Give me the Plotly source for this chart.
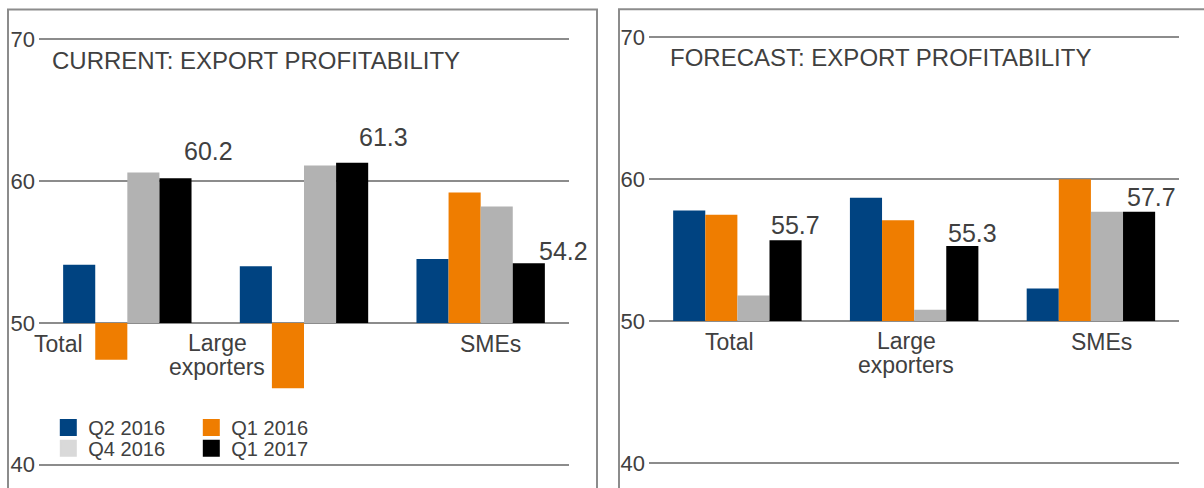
import plotly.graph_objects as go

categories = ["Total", "Large exporters", "SMEs"]
series_names = ["Q2 2016", "Q1 2016", "Q4 2016", "Q1 2017"]
current_q2_2016 = [54.1, 54.0, 54.5]
current_q1_2016 = [47.4, 45.4, 59.2]
current_q4_2016 = [60.6, 61.1, 58.2]
current_q1_2017 = [60.2, 61.3, 54.2]
forecast_q2_2016 = [57.8, 58.7, 52.3]
forecast_q1_2016 = [57.5, 57.1, 60.0]
forecast_q4_2016 = [51.8, 50.8, 57.7]
forecast_q1_2017 = [55.7, 55.3, 57.7]
y_ticks = [40, 50, 60, 70]
baseline = 50
left_title = "CURRENT: EXPORT PROFITABILITY"
right_title = "FORECAST: EXPORT PROFITABILITY"

bar_colors = ["#004381", "#EF7D00", "#B2B2B2", "#000000"]
legend_colors = ["#004381", "#EF7D00", "#D9D9D9", "#000000"]
TXT = "#404040"
GRID = "#8c8c8c"
FONT = "Liberation Sans, Arial, sans-serif"
W, H = 1204, 488

current = [current_q2_2016, current_q1_2016, current_q4_2016, current_q1_2017]
forecast = [forecast_q2_2016, forecast_q1_2016, forecast_q4_2016, forecast_q1_2017]

fig = go.Figure()
for name, col, vals in zip(series_names, bar_colors, current):
    fig.add_trace(go.Bar(x=categories, y=[v - baseline for v in vals], base=baseline,
                         marker=dict(color=col, line=dict(width=0)), name=name,
                         showlegend=False, xaxis="x", yaxis="y"))
for name, col, vals in zip(series_names, bar_colors, forecast):
    fig.add_trace(go.Bar(x=categories, y=[v - baseline for v in vals], base=baseline,
                         marker=dict(color=col, line=dict(width=0)), name=name,
                         showlegend=False, xaxis="x2", yaxis="y2"))
# legend entries
for i, (name, col) in enumerate(zip(series_names, legend_colors)):
    fig.add_trace(go.Scatter(x=[categories[0]], y=[None], mode="markers", name=name,
                             marker=dict(symbol="square", size=15, color=col,
                                         line=dict(color=col, width=2)),
                             legend="legend" if i < 2 else "legend2",
                             xaxis="x", yaxis="y", hoverinfo="skip"))

ann = []
# titles
ann.append(dict(text=left_title, xref="paper", yref="paper", x=50 / W, y=(H - 60) / H,
                xanchor="left", yanchor="middle", showarrow=False,
                font=dict(size=24, color=TXT, family=FONT)))
ann.append(dict(text=right_title, xref="paper", yref="paper", x=668 / W, y=(H - 58) / H,
                xanchor="left", yanchor="middle", showarrow=False,
                font=dict(size=24, color=TXT, family=FONT)))

# category labels (xshift per panel, as placed in the original)
cat_shift_left = [-69, -87, 10]
cat_shift_right = [-8, -8, 11]
for ax, shifts in (("x", cat_shift_left), ("x2", cat_shift_right)):
    yref = "y" if ax == "x" else "y2"
    for cat, sh in zip(categories, shifts):
        parts = cat.split(" ")
        if len(parts) == 1:
            lines = [(parts[0], -21)]
        else:
            lines = [(parts[0], -20), (parts[1], -44)]
        for txt, ys in lines:
            ann.append(dict(text=txt, xref=ax, yref=yref, x=cat, y=baseline,
                            xshift=sh, yshift=ys, xanchor="center", yanchor="middle",
                            showarrow=False, font=dict(size=23, color=TXT, family=FONT)))

# data labels for Q1 2017
lab_left = [(81, 27), (79, 25.5), (82.5, 12)]
lab_right = [(57.7, 15), (58, 13.3), (60.5, 15)]
for ax, vals, offs in (("x", current_q1_2017, lab_left), ("x2", forecast_q1_2017, lab_right)):
    yref = "y" if ax == "x" else "y2"
    for cat, v, (dx, dy) in zip(categories, vals, offs):
        ann.append(dict(text=f"{v:.1f}", xref=ax, yref=yref, x=cat, y=v,
                        xshift=dx, yshift=dy, xanchor="center", yanchor="middle",
                        showarrow=False, font=dict(size=25, color=TXT, family=FONT)))

shapes = [
    dict(type="rect", xref="paper", yref="paper", x0=8 / W, x1=597 / W,
         y0=-0.05, y1=(H - 9.5) / H, line=dict(color=GRID, width=2), fillcolor="rgba(0,0,0,0)"),
    dict(type="rect", xref="paper", yref="paper", x0=619 / W, x1=1.05,
         y0=-0.05, y1=(H - 9.3) / H, line=dict(color=GRID, width=2), fillcolor="rgba(0,0,0,0)"),
]

yax = dict(range=[39, 71], tickvals=y_ticks, showgrid=True, gridcolor=GRID, gridwidth=1.5,
           zeroline=False, showline=False, ticks="", fixedrange=True, ticklabelstandoff=3,
           tickfont=dict(size=22, color=TXT, family=FONT))
xax = dict(type="category", showticklabels=False, showgrid=False, zeroline=False,
           showline=False, ticks="", fixedrange=True, range=[-0.5, 2.5])

fig.update_layout(
    width=W, height=H, margin=dict(l=0, r=0, t=0, b=0),
    paper_bgcolor="white", plot_bgcolor="white",
    font=dict(family=FONT, color=TXT),
    barmode="group", bargap=0.2733, bargroupgap=0,
    xaxis=dict(xax, domain=[39 / W, 569 / W], anchor="y"),
    yaxis=dict(yax, domain=[(H - 478.9) / H, (H - 25.1) / H], anchor="x"),
    xaxis2=dict(xax, domain=[649 / W, 1179.3 / W], anchor="y2"),
    yaxis2=dict(yax, domain=[(H - 477.2) / H, (H - 23.1) / H], anchor="x2"),
    annotations=ann, shapes=shapes,
    legend=dict(orientation="h", x=48.3 / W, y=(H - 427.5) / H, xanchor="left", yanchor="middle",
                entrywidth=98, entrywidthmode="pixels", font=dict(size=20, color=TXT, family=FONT),
                bgcolor="rgba(0,0,0,0)", borderwidth=0),
    legend2=dict(orientation="h", x=48.3 / W, y=(H - 448.3) / H, xanchor="left", yanchor="middle",
                 entrywidth=98, entrywidthmode="pixels", font=dict(size=20, color=TXT, family=FONT),
                 bgcolor="rgba(0,0,0,0)", borderwidth=0),
    showlegend=True,
)

fig.write_html("out.html")
